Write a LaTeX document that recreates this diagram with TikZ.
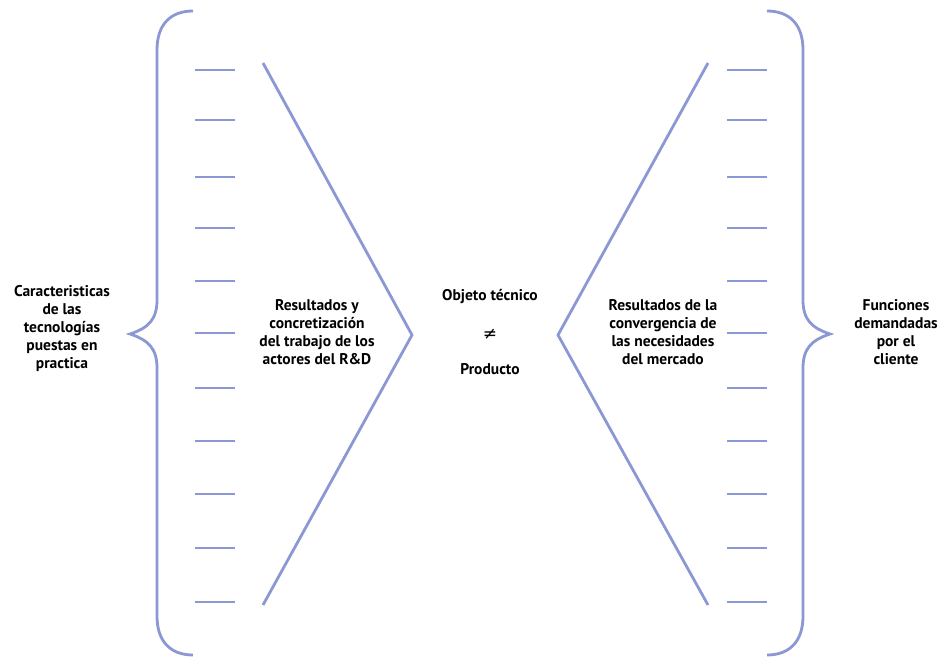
\documentclass[tikz,border=0pt]{standalone}
\usepackage{fontspec}
\setmainfont{PT Sans}
\newfontfamily\symfont{DejaVu Sans}
\definecolor{lineblue}{RGB}{140,152,212}
\tikzset{
  txt/.style={align=center, font=\bfseries\fontsize{15.5}{18}\selectfont, inner sep=0pt},
  bar/.style={draw=lineblue, line width=2.8pt},
  tick/.style={draw=lineblue, line width=2pt}
}
\begin{document}
\begin{tikzpicture}[x=1pt, y=-1pt]
\useasboundingbox[fill=white] (0,0) rectangle (950,660);
% left brace
\draw[bar] (193,11) .. controls (170,11) and (157,25) .. (157,50) -- (157,300)
  .. controls (157,320) and (148,328) .. (130,334) .. controls (148,340) and (157,348) .. (157,368)
  -- (157,616) .. controls (157,641) and (170,655) .. (193,655);
% right brace
\draw[bar] (767,11) .. controls (790,11) and (803,25) .. (803,50) -- (803,300)
  .. controls (803,320) and (812,328) .. (830,334) .. controls (812,340) and (803,348) .. (803,368)
  -- (803,616) .. controls (803,641) and (790,655) .. (767,655);
% ticks
\foreach \y in {70,120,177,228,281,333,388,441,494,548,602}{
  \draw[tick] (195,\y) -- (235,\y);
  \draw[tick] (727,\y) -- (767,\y);
}
% chevrons
\draw[bar] (263,63) -- (412,335) -- (263,605);
\draw[bar] (708,63) -- (558,335) -- (708,605);
% texts
\node[txt] (tech) at (62,329) {Caracteristicas\\de las\\tecnologías\\puestas en\\practica};
\node[txt] (rd) at (317,332) {Resultados y\\concretización\\del trabajo de los\\actores del R\&D};
\node[txt] (obj) at (490,297) {Objeto técnico};
\node[txt, font=\symfont\fontsize{17}{18}\selectfont] (neq) at (490,334) {≠};
\node[txt] (prod) at (490,369) {Producto};
\node[txt] (merc) at (663,332) {Resultados de la\\convergencia de\\las necesidades\\del mercado};
\node[txt] (func) at (896,332) {Funciones\\demandadas\\por el\\cliente};
\end{tikzpicture}
\end{document}
